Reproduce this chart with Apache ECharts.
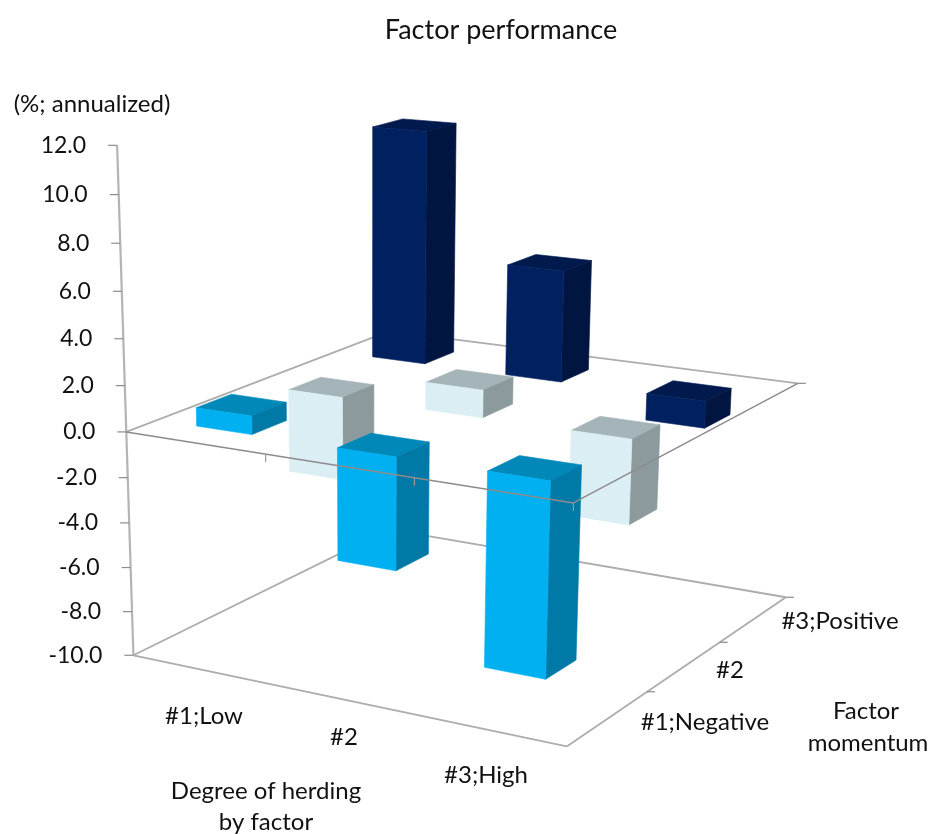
<!DOCTYPE html>
<html>
<head>
<meta charset="utf-8">
<style>
  html, body { margin: 0; background: #fff; }
  #chart { width: 933px; height: 834px; }
</style>
<script src="https://cdn.jsdelivr.net/npm/echarts@6/dist/echarts.min.js"></script>
</head>
<body>
<div id="chart"></div>
<script>
var herding = ['#1;Low', '#2', '#3;High'];
var momentum = ['#1;Negative', '#2', '#3;Positive'];
var valuesNegative = [0.8, -4.85, -8.3];
var valuesMiddle = [-3.75, 1.2, -3.7];
var valuesPositive = [10.6, 5.0, -1.2];
var yTicks = [-10, -8, -6, -4, -2, 0, 2, 4, 6, 8, 10, 12];

var FONT = 'Lato';
var LINE = '#adadad';

// where the corners of the 3d box land on the page: [a, b, value, px, py]
var anchors = [
  [0, 0, -10, 133, 655], [1, 0, -10, 569, 747], [1, 1, -10, 783, 597], [0, 1, -10, 390, 531],
  [0, 0, 0, 126, 430], [1, 0, 0, 572, 503], [1, 1, 0, 800, 383], [0, 1, 0, 389, 330],
  [0, 0, 12, 117, 147]
];

// least squares for the 3x4 camera matrix, last entry fixed to 1
function solveCamera() {
  var rows = [], rhs = [];
  anchors.forEach(function (p) {
    var a = p[0], b = p[1], h = (p[2] + 10) / 22, x = p[3], y = p[4];
    rows.push([a, b, h, 1, 0, 0, 0, 0, -x * a, -x * b, -x * h]); rhs.push(x);
    rows.push([0, 0, 0, 0, a, b, h, 1, -y * a, -y * b, -y * h]); rhs.push(y);
  });
  var n = 11, m = [];
  for (var i = 0; i < n; i++) {
    m[i] = [];
    for (var j = 0; j <= n; j++) {
      var s = 0;
      for (var k = 0; k < rows.length; k++) s += rows[k][i] * (j < n ? rows[k][j] : rhs[k]);
      m[i][j] = s;
    }
  }
  for (i = 0; i < n; i++) {
    var best = i;
    for (k = i + 1; k < n; k++) if (Math.abs(m[k][i]) > Math.abs(m[best][i])) best = k;
    var t = m[i]; m[i] = m[best]; m[best] = t;
    for (k = 0; k < n; k++) {
      if (k === i) continue;
      var f = m[k][i] / m[i][i];
      for (j = i; j <= n; j++) m[k][j] -= f * m[i][j];
    }
  }
  return m.map(function (r, idx) { return r[n] / r[idx]; });
}
var cam = solveCamera();

function project(a, b, h) {
  var w = cam[8] * a + cam[9] * b + cam[10] * h + 1;
  return [
    (cam[0] * a + cam[1] * b + cam[2] * h + cam[3]) / w,
    (cam[4] * a + cam[5] * b + cam[6] * h + cam[7]) / w
  ];
}

function heightOf(api, params, value) {
  var py = api.coord([0, value])[1];
  return (params.coordSys.y + params.coordSys.height - py) / params.coordSys.height;
}

function line(p, q, color, width) {
  return {
    type: 'line',
    shape: { x1: p[0], y1: p[1], x2: q[0], y2: q[1] },
    style: { stroke: color || LINE, lineWidth: width || 1.8 }
  };
}

function label(text, x, y, align) {
  return {
    type: 'text',
    style: { text: text, x: x, y: y, align: align || 'center', verticalAlign: 'middle', font: '23px ' + FONT, fill: '#111' }
  };
}

function face(points, color) {
  return {
    type: 'polygon',
    shape: { points: points },
    style: { fill: color, stroke: color, lineWidth: 0.6 }
  };
}

// part of a cell taken by a bar, along each floor direction
var BAR_A = 0.4, BAR_B = 0.37, CENTER_A = 0.49;

function barItem(rowIndex, colors) {
  return function (params, api) {
    var col = api.value(0), value = api.value(1);
    var a0 = (col + CENTER_A - BAR_A / 2) / 3, a1 = (col + CENTER_A + BAR_A / 2) / 3;
    var b0 = (rowIndex + 0.5 - BAR_B / 2) / 3, b1 = (rowIndex + 0.5 + BAR_B / 2) / 3;
    var top = heightOf(api, params, Math.max(value, 0));
    var bot = heightOf(api, params, Math.min(value, 0));
    return {
      type: 'group',
      children: [
        face([project(a0, b0, top), project(a1, b0, top), project(a1, b1, top), project(a0, b1, top)], colors.top),
        face([project(a1, b0, top), project(a1, b1, top), project(a1, b1, bot), project(a1, b0, bot)], colors.side),
        face([project(a0, b0, top), project(a1, b0, top), project(a1, b0, bot), project(a0, b0, bot)], colors.front)
      ]
    };
  };
}

function barSeries(name, rowIndex, values, colors) {
  return {
    type: 'custom',
    name: name,
    z: 3,
    clip: false,
    renderItem: barItem(rowIndex, colors),
    encode: { x: 0, y: 1 },
    data: values.map(function (v, i) { return [i, v]; })
  };
}

// floor, back edges of the zero plane, value axis with its labels
function frameBack(params, api) {
  var floor = heightOf(api, params, -10), zero = heightOf(api, params, 0), top = heightOf(api, params, 12);
  var kids = [
    line(project(0, 0, floor), project(0, 0, top), '#b4b4b4', 2.2),
    line(project(0, 0, floor), project(1, 0, floor)),
    line(project(1, 0, floor), project(1, 1, floor)),
    line(project(1, 1, floor), project(0, 1, floor)),
    line(project(0, 1, floor), project(0, 0, floor)),
    line(project(0, 0, zero), project(0, 1, zero)),
    line(project(0, 1, zero), project(1, 1, zero))
  ];
  yTicks.forEach(function (v) {
    var p = project(0, 0, heightOf(api, params, v));
    kids.push(line([p[0] - 9, p[1]], p, '#8c8c8c', 1.2));
    kids.push(label(v.toFixed(1), p[0] - 31, p[1], 'right'));
  });
  [1 / 3, 2 / 3, 1].forEach(function (b) {
    var p = project(1, b, floor);
    kids.push(line(p, [p[0] + 8, p[1]], '#8c8c8c', 1.2));
  });
  return { type: 'group', children: kids };
}

// the front edges of the zero plane run over the bars
function frameFront(params, api) {
  var zero = heightOf(api, params, 0);
  var kids = [
    line(project(0, 0, zero), project(1, 0, zero), '#8c8c8c', 1.5),
    line(project(1, 0, zero), project(1, 1, zero), '#8c8c8c', 1.5)
  ];
  [1 / 3, 2 / 3, 1].forEach(function (a) {
    var p = project(a, 0, zero);
    kids.push(line(p, [p[0], p[1] + 8], '#9a9a9a', 1.2));
  });
  var q = project(1, 1, zero);
  kids.push(line(q, [q[0] + 8, q[1]], '#8c8c8c', 1.2));
  return { type: 'group', children: kids };
}

function pageText(text, x, y) {
  return { type: 'text', x: x, y: y, style: { text: text, font: '24px ' + FONT, fill: '#111', align: 'center', verticalAlign: 'middle' } };
}

var chart = echarts.init(document.getElementById('chart'));
chart.setOption({
  animation: false,
  backgroundColor: '#fff',
  title: { text: 'Factor performance', left: 496, top: 12, textAlign: 'center', textStyle: { fontFamily: FONT, fontSize: 27, fontWeight: 'normal', color: '#111' } },
  grid: { left: 100, right: 100, top: 100, bottom: 100 },
  xAxis: { type: 'category', data: herding, show: false },
  yAxis: { type: 'value', min: -10, max: 12, interval: 2, show: false },
  graphic: [
    pageText('(%; annualized)', 92, 104),
    pageText(herding[0], 204, 716),
    pageText(herding[1], 344, 737),
    pageText(herding[2], 486, 775),
    pageText(momentum[0], 705, 722),
    pageText(momentum[1], 730, 670),
    pageText(momentum[2], 840, 621),
    pageText('Factor', 866, 711),
    pageText('momentum', 868, 743),
    pageText('Degree of herding', 266, 791),
    pageText('by factor', 266, 822)
  ],
  series: [
    { type: 'custom', z: 1, clip: false, renderItem: frameBack, data: [[0, 0]] },
    barSeries(momentum[2], 2, valuesPositive, { front: '#002060', side: '#00153f', top: '#001a4d' }),
    barSeries(momentum[1], 1, valuesMiddle, { front: '#dbeef4', side: '#8c9a9e', top: '#a5b4b8' }),
    barSeries(momentum[0], 0, valuesNegative, { front: '#00b0f0', side: '#0079a6', top: '#0088b8' }),
    { type: 'custom', z: 5, clip: false, renderItem: frameFront, data: [[0, 0]] }
  ]
});
</script>
</body>
</html>
